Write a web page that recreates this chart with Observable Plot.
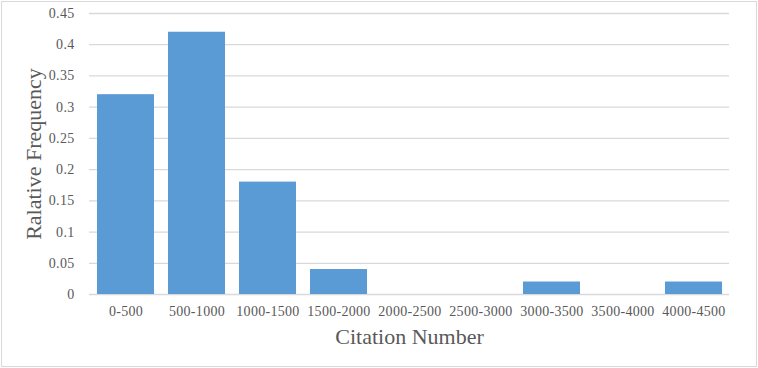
<!DOCTYPE html>
<html>
<head>
<meta charset="utf-8">
<script src="https://cdn.jsdelivr.net/npm/d3@7"></script>
<script src="https://cdn.jsdelivr.net/npm/@observablehq/plot@0.6"></script>
<style>
  html, body { margin: 0; padding: 0; background: #fff; }
  #chart svg { display: block; outline: 1px solid #d9d9d9; outline-offset: -2px; }
  #chart g[aria-label$="tick label"] { font-size: 14px; letter-spacing: 0.3px; }
</style>
</head>
<body>
<div id="chart"></div>
<script>
const categories = ["0-500", "500-1000", "1000-1500", "1500-2000", "2000-2500", "2500-3000", "3000-3500", "3500-4000", "4000-4500"];
const frequencies = [0.32, 0.42, 0.18, 0.04, 0, 0, 0.02, 0, 0.02];
const yTicks = [0, 0.05, 0.1, 0.15, 0.2, 0.25, 0.3, 0.35, 0.4, 0.45];
const xTitle = "Citation Number";
const yTitle = "Ralative Frequency";

const data = categories.map((c, i) => ({bin: c, freq: frequencies[i]}));
const textColor = "#595959";

const chart = Plot.plot({
  width: 758,
  height: 368,
  marginLeft: 89,
  marginRight: 29,
  marginTop: 13,
  marginBottom: 74,
  style: {fontFamily: "'Liberation Serif', 'Times New Roman', serif", color: textColor, background: "#fff"},
  x: {domain: categories, paddingInner: 0.2, paddingOuter: 0.1},
  y: {domain: [0, 0.45]},
  marks: [
    Plot.gridY(yTicks, {stroke: "#d9d9d9", strokeOpacity: 1, strokeWidth: 1.3}),
    Plot.barY(data, {x: "bin", y: "freq", fill: "#5B9BD5"}),
    Plot.axisY(yTicks, {tickSize: 0, tickPadding: 15, fontSize: 14, fill: textColor, label: null, tickFormat: d => String(+d.toFixed(2))}),
    Plot.axisX({tickSize: 0, tickPadding: 12, fontSize: 14, fill: textColor, label: null}),
    Plot.text([xTitle], {frameAnchor: "bottom", dy: 49, fontSize: 22, fill: textColor, text: d => d}),
    Plot.text([yTitle], {frameAnchor: "left", textAnchor: "middle", dx: -56, rotate: -90, fontSize: 22, fill: textColor, text: d => d})
  ]
});
document.getElementById("chart").append(chart);
</script>
</body>
</html>
